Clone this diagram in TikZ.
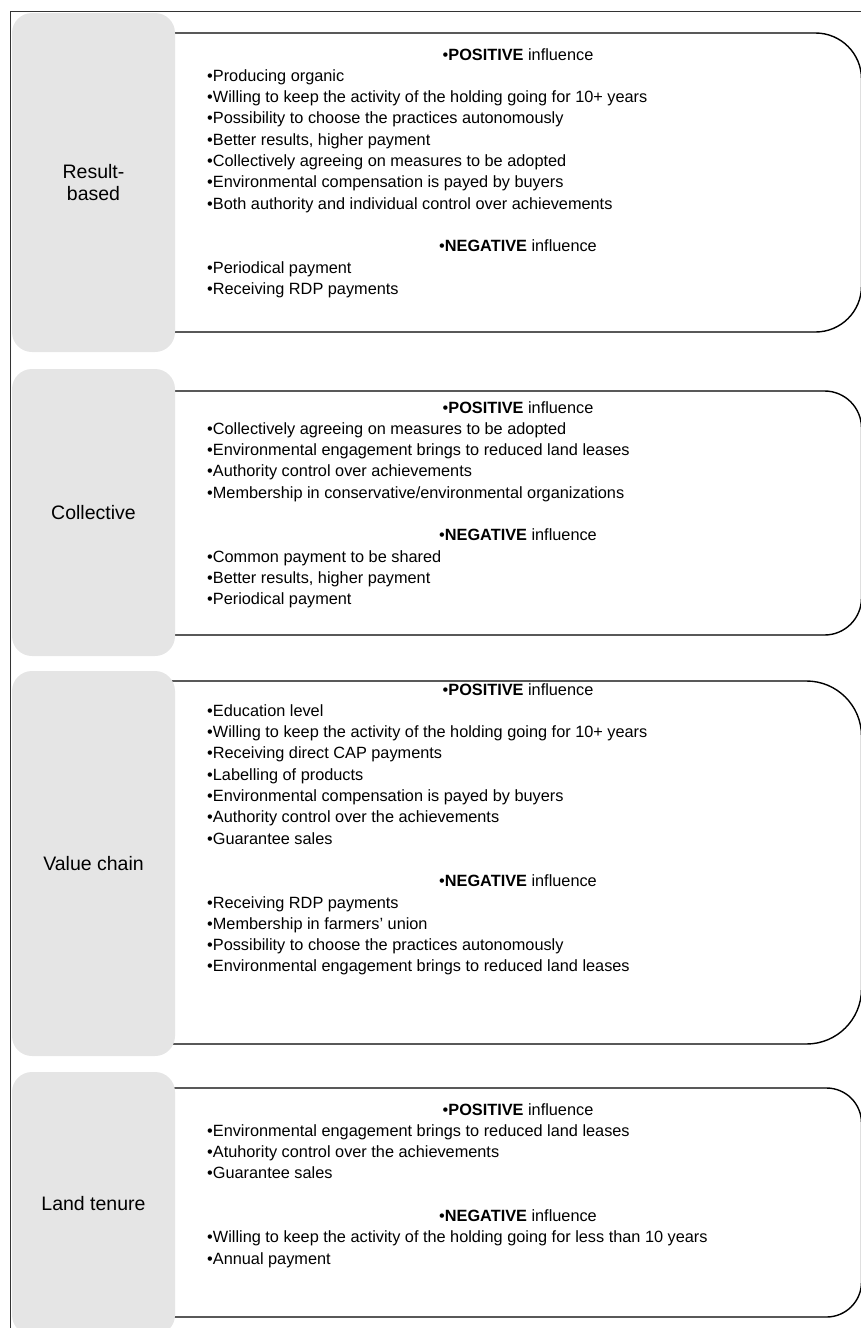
\documentclass[tikz,border=0pt]{standalone}
\usepackage{fontspec}
\setmainfont{Liberation Sans}
\begin{document}
\begin{tikzpicture}[x=1pt,y=-1pt,
  frame/.style={draw=black!80,line width=1pt},
  graybox/.style={fill=black!10,draw=none,rounded corners=20pt,inner sep=0pt,align=center,font=\fontsize{19.5}{22}\selectfont},
  whitebox/.style={draw=black,line width=1.4pt,fill=white,inner sep=0pt},
  item/.style={anchor=base west,inner sep=0pt,font=\fontsize{16.3}{19}\selectfont},
  head/.style={anchor=base,inner sep=0pt,font=\fontsize{16.3}{19}\selectfont}]
\useasboundingbox (0,0) rectangle (860,1328);
\coordinate (fb) at (10,1340);
\coordinate (ftl) at (10,11);
\coordinate (fr) at (870,11);
\draw[frame] (fb) -- (ftl) -- (fr);
% white boxes
\node[whitebox,rounded corners=46pt,minimum width=761.5pt,minimum height=299pt] (w1) at (480.75,182.5) {};
\node[whitebox,rounded corners=37pt,minimum width=761.5pt,minimum height=244pt] (w2) at (480.75,513) {};
\node[whitebox,rounded corners=55pt,minimum width=761.5pt,minimum height=363pt] (w3) at (480.75,862.5) {};
\node[whitebox,rounded corners=35pt,minimum width=761.5pt,minimum height=229pt] (w4) at (480.75,1202.5) {};
% gray boxes
\node[graybox,minimum width=163pt,minimum height=339pt] (g1) at (93.5,182.5) {Result-\\based};
\node[graybox,minimum width=163pt,minimum height=287pt] (g2) at (93.5,512.5) {Collective};
\node[graybox,minimum width=163pt,minimum height=385pt] (g3) at (93.5,863.5) {Value chain};
\node[graybox,minimum width=163pt,minimum height=263pt] (g4) at (93.5,1203.5) {Land tenure};
% Box 1
\node[head] (h1p) at (518,60) {\textbullet\textbf{POSITIVE} influence};
\foreach \t [count=\i] in {Producing organic, Willing to keep the activity of the holding going for 10+ years, Possibility to choose the practices autonomously, {Better results, higher payment}, Collectively agreeing on measures to be adopted, Environmental compensation is payed by buyers, Both authority and individual control over achievements}
  \node[item] (p1-\i) at (207,{60+21.3*\i}) {\textbullet\t};
\node[head] (h1n) at (518,{60+21.3*9}) {\textbullet\textbf{NEGATIVE} influence};
\foreach \t [count=\i] in {Periodical payment, Receiving RDP payments}
  \node[item] (n1-\i) at (207,{60+21.3*(9+\i)}) {\textbullet\t};
% Box 2
\node[head] (h2p) at (518,413) {\textbullet\textbf{POSITIVE} influence};
\foreach \t [count=\i] in {Collectively agreeing on measures to be adopted, Environmental engagement brings to reduced land leases, Authority control over achievements, Membership in conservative/environmental organizations}
  \node[item] (p2-\i) at (207,{413+21.3*\i}) {\textbullet\t};
\node[head] (h2n) at (518,{413+21.3*6}) {\textbullet\textbf{NEGATIVE} influence};
\foreach \t [count=\i] in {Common payment to be shared, {Better results, higher payment}, Periodical payment}
  \node[item] (n2-\i) at (207,{413+21.3*(6+\i)}) {\textbullet\t};
% Box 3
\node[head] (h3p) at (518,695) {\textbullet\textbf{POSITIVE} influence};
\foreach \t [count=\i] in {Education level, Willing to keep the activity of the holding going for 10+ years, Receiving direct CAP payments, Labelling of products, Environmental compensation is payed by buyers, Authority control over the achievements, Guarantee sales}
  \node[item] (p3-\i) at (207,{695+21.3*\i}) {\textbullet\t};
\node[head] (h3n) at (518,{695+21.3*9}) {\textbullet\textbf{NEGATIVE} influence};
\foreach \t [count=\i] in {Receiving RDP payments, Membership in farmers' union, Possibility to choose the practices autonomously, Environmental engagement brings to reduced land leases}
  \node[item] (n3-\i) at (207,{695+21.3*(9+\i)}) {\textbullet\t};
% Box 4
\node[head] (h4p) at (518,1115) {\textbullet\textbf{POSITIVE} influence};
\foreach \t [count=\i] in {Environmental engagement brings to reduced land leases, Atuhority control over the achievements, Guarantee sales}
  \node[item] (p4-\i) at (207,{1115+21.3*\i}) {\textbullet\t};
\node[head] (h4n) at (518,{1115+21.3*5}) {\textbullet\textbf{NEGATIVE} influence};
\foreach \t [count=\i] in {Willing to keep the activity of the holding going for less than 10 years, Annual payment}
  \node[item] (n4-\i) at (207,{1115+21.3*(5+\i)}) {\textbullet\t};
\end{tikzpicture}
\end{document}
